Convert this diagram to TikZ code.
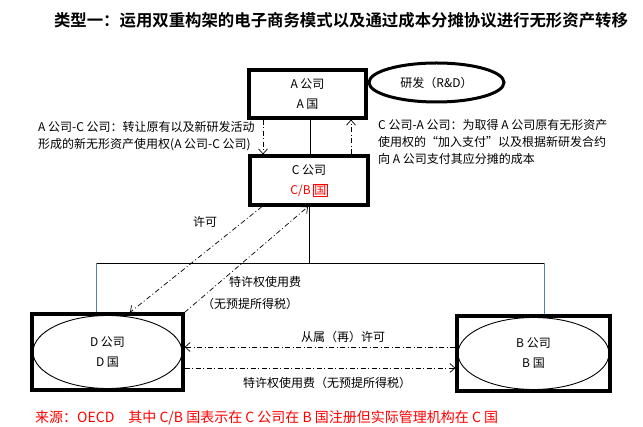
\documentclass[tikz,border=0pt]{standalone}
\usepackage{fontspec}
\setmainfont{Noto Sans CJK SC}[BoldFont={Noto Sans CJK SC Bold}]
\usetikzlibrary{shapes.geometric,arrows.meta}
\definecolor{linkblue}{RGB}{79,129,189}
\setlength{\fboxsep}{0.5pt}
\setlength{\fboxrule}{0.6pt}
\tikzset{
	co box/.style={draw,rectangle,line width=3.2pt,align=center,font=\fontsize{12}{20}\selectfont},
	co oval/.style={draw,ellipse,line width=0.9pt,inner sep=0pt,align=center,font=\fontsize{12}{20}\selectfont},
	flow/.style={line width=0.7pt,dash pattern=on 5pt off 2.5pt on 1pt off 2.5pt,-{Straight Barb[length=5pt,width=9pt]}},
	note/.style={inner sep=0pt,align=left,font=\fontsize{12}{17}\selectfont}
}
\begin{document}
\begin{tikzpicture}[x=1pt,y=-1pt]
	\useasboundingbox (0,0) rectangle (643,427);

	\node[font=\bfseries\fontsize{16.4}{20}\selectfont] (title) at (341,20) {类型一：运用双重构架的电子商务模式以及通过成本分摊协议进行无形资产转移};

	\begin{scope}[every node/.style={co box}]
		\node[minimum width=117pt,minimum height=48pt] (a_co) at (307.5,94) {A 公司\\A 国};
		\node[minimum width=118pt,minimum height=49pt] (c_co) at (309,180.5) {C 公司\\\textcolor{red}{C/B \fcolorbox{red}{white}{国}}};
		\node[minimum width=151pt,minimum height=76pt] (d_co) at (107.5,352) {};
		\node[minimum width=153pt,minimum height=75pt] (b_co) at (533.5,353.5) {};
	\end{scope}

	\node[draw,ellipse,line width=3pt,minimum width=135pt,minimum height=39pt,font=\fontsize{12}{14}\selectfont] (rnd) at (436.5,82.5) {研发（R\&D）};
	\node[co oval,minimum width=149pt,minimum height=73pt] (d_oval) at (d_co) {D 公司\\D 国};
	\node[co oval,minimum width=151pt,minimum height=72pt] (b_oval) at (b_co) {B 公司\\B 国};

	% links between A and C
	\draw[line width=0.8pt] ([xshift=2.5pt]a_co.south) -- ([xshift=2.5pt]a_co.south |- c_co.north);
	\draw[flow] ([xshift=-44.5pt]a_co.south) -- ([xshift=-44.5pt]a_co.south |- c_co.north);
	\draw[flow] ([xshift=43.5pt]a_co.south |- c_co.north) -- ([xshift=43.5pt]a_co.south);

	% group line
	\coordinate (bus_l) at (96,263);
	\coordinate (bus_r) at (544,263);
	\draw[line width=0.8pt] (c_co.south) -- (c_co.south |- bus_l);
	\draw[line width=0.8pt] (bus_l) -- (bus_r);
	\draw[linkblue,line width=0.8pt] (bus_l) -- (bus_l |- d_co.north);
	\draw[linkblue,line width=0.8pt] (bus_r) -- (bus_r |- b_co.north);

	% C and D
	\draw[flow] ([xshift=-47pt]c_co.south) -- ([xshift=22.5pt]d_co.north);
	\draw[flow] (d_co.north east) -- ([xshift=-1pt]c_co.south);

	% D and B
	\draw[flow] ([yshift=6.5pt]b_co.west) -- ([yshift=6.5pt]b_co.west -| d_co.east);
	\draw[flow] ([yshift=-16pt]d_co.east) -- ([yshift=-16pt]d_co.east -| b_co.west);

	\node[note,anchor=west] (ac_note) at (38,136.5) {A 公司-C 公司：转让原有以及新研发活动\\形成的新无形资产使用权(A 公司-C 公司)};
	\node[note,anchor=west] (ca_note) at (378,142) {C 公司-A 公司：为取得 A 公司原有无形资产\\使用权的“加入支付”以及根据新研发合约\\向 A 公司支付其应分摊的成本};
	\node[font=\fontsize{12}{14}\selectfont] (lic) at (205,222) {许可};
	\node[font=\fontsize{12}{14}\selectfont] (fee) at (265,282) {特许权使用费};
	\node[font=\fontsize{12}{14}\selectfont] (fee_tax) at (250,304) {（无预提所得税）};
	\node[font=\fontsize{12}{14}\selectfont] (sublic) at (343,337) {从属（再）许可};
	\node[font=\fontsize{12}{14}\selectfont] (fee_db) at (327,383) {特许权使用费（无预提所得税）};

	\node[red,anchor=west,inner sep=0pt,font=\fontsize{14}{16}\selectfont] (src) at (35,418) {来源：OECD\quad 其中 C/B 国表示在 C 公司在 B 国注册但实际管理机构在 C 国};
\end{tikzpicture}
\end{document}
